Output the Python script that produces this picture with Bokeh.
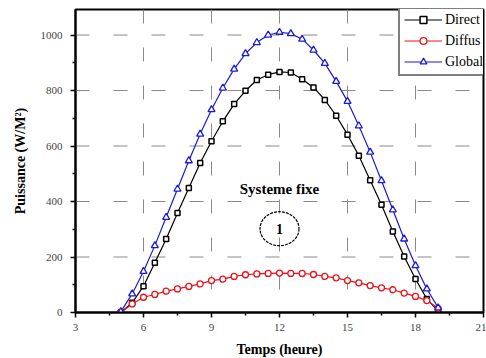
from bokeh.plotting import figure
from bokeh.models import FixedTicker, Legend, LegendItem, Label, Range1d, Span
from bokeh.embed import file_html
from bokeh.resources import INLINE

# Hourly solar power on a fixed system (W/m²), sampled every half hour
hours = [5.0, 5.5, 6.0, 6.5, 7.0, 7.5, 8.0, 8.5, 9.0, 9.5, 10.0, 10.5, 11.0, 11.5,
         12.0, 12.5, 13.0, 13.5, 14.0, 14.5, 15.0, 15.5, 16.0, 16.5, 17.0, 17.5,
         18.0, 18.5, 19.0]
direct = [0, 35, 95, 179, 265, 359, 449, 539, 617, 689, 751, 799, 838, 857,
          867, 865, 841, 811, 766, 709, 641, 565, 477, 388, 292, 202, 121, 49, 5]
diffus = [0, 31, 55, 65, 77, 85, 94, 103, 115, 120, 130, 136, 139, 141,
          142, 141, 141, 137, 130, 125, 115, 107, 97, 89, 82, 70, 58, 43, 15]
global_ = [3, 67, 148, 241, 343, 445, 547, 643, 731, 809, 877, 933, 973, 1000,
           1010, 1005, 985, 946, 898, 833, 761, 673, 578, 475, 370, 265, 169, 85, 17]

x_ticks = [3, 6, 9, 12, 15, 18, 21]
x_minor = [4.5, 7.5, 10.5, 13.5, 16.5, 19.5]
y_ticks = [0, 200, 400, 600, 800, 1000]
y_minor = [100, 300, 500, 700, 900]

SERIF = "Liberation Serif"

p = figure(frame_width=408, frame_height=303,
           min_border_left=75, min_border_right=3, min_border_top=9, min_border_bottom=46,
           x_range=Range1d(3, 21), y_range=Range1d(0, 1092),
           output_backend="svg", toolbar_location=None,
           background_fill_color="white", border_fill_color="white")

p.outline_line_color = "black"
p.outline_line_width = 2
p.xgrid.visible = False
p.ygrid.visible = False

# Axes
for ax in (p.xaxis[0], p.yaxis[0]):
    ax.axis_line_width = 2
    ax.axis_line_color = "black"
    ax.major_tick_line_width = 1.5
    ax.minor_tick_line_width = 1.5
    ax.major_tick_in = 0
    ax.major_tick_out = 5
    ax.minor_tick_in = 0
    ax.minor_tick_out = 3
    ax.major_label_text_font = SERIF
    ax.major_label_text_font_size = "11px"
    ax.major_label_text_color = "#444444"
    ax.axis_label_text_font = SERIF
    ax.axis_label_text_font_style = "bold"
    ax.axis_label_text_font_size = "14px"
    ax.axis_label_text_color = "black"

p.xaxis.ticker = FixedTicker(ticks=x_ticks, minor_ticks=x_minor)
p.yaxis.ticker = FixedTicker(ticks=y_ticks, minor_ticks=y_minor)
p.xaxis.axis_label = "Temps (heure)"
p.yaxis.axis_label = "Puissance (W/M²)"
p.xaxis.major_label_standoff = 6
p.xaxis.axis_label_standoff = 8
p.yaxis.major_label_standoff = 8
p.yaxis.axis_label_standoff = 10

# Sparse short-dash grid at the interior major ticks
for t in x_ticks[1:-1]:
    p.add_layout(Span(location=t, dimension="height", line_color="#8a8a8a",
                      line_width=1, line_dash="14 24", level="underlay"))
for t in y_ticks[1:]:
    p.add_layout(Span(location=t, dimension="width", line_color="#8a8a8a",
                      line_width=1, line_dash="14 24", level="underlay"))

# Curves
r_dir_l = p.line(hours, direct, line_color="black", line_width=1.2)
r_dir_m = p.scatter(hours, direct, marker="square", size=5, line_color="black",
                    fill_color="white", line_width=1.5)
r_dif_l = p.line(hours, diffus, line_color="#e8141a", line_width=1.2)
r_dif_m = p.scatter(hours, diffus, marker="circle", size=6, line_color="#e8141a",
                    fill_color="white", line_width=1.3)
r_glo_l = p.line(hours, global_, line_color="#1a1ad6", line_width=1.2)
r_glo_m = p.scatter(hours, global_, marker="triangle", size=7, line_color="#1a1ad6",
                    fill_color="white", line_width=1.3)

legend = Legend(items=[
    LegendItem(label="Direct", renderers=[r_dir_l, r_dir_m]),
    LegendItem(label="Diffus", renderers=[r_dif_l, r_dif_m]),
    LegendItem(label="Global", renderers=[r_glo_l, r_glo_m]),
], location=(323, 236))
legend.margin = 0
legend.padding = 4
legend.spacing = 4
legend.glyph_width = 38
legend.glyph_height = 17
legend.label_height = 17
legend.label_standoff = 3
legend.label_text_font = SERIF
legend.label_text_font_size = "14px"
legend.label_text_color = "black"
legend.border_line_color = "black"
legend.border_line_width = 2
legend.background_fill_color = "white"
legend.background_fill_alpha = 1
p.add_layout(legend)

# Annotation: system label and numbered circle
p.add_layout(Label(x=12, y=446, text="Systeme fixe", text_font=SERIF,
                   text_font_style="bold", text_font_size="15px",
                   text_align="center", text_baseline="middle", text_color="black"))
p.ellipse(x=[12], y=[302], width=39, height=34, width_units="screen",
          height_units="screen", fill_color=None, line_color="black",
          line_width=1.2, line_dash="3 1")
p.add_layout(Label(x=12, y=302, text="1", text_font=SERIF,
                   text_font_style="bold", text_font_size="14px",
                   text_align="center", text_baseline="middle", text_color="black"))

open("out.html", "w").write(file_html(p, INLINE))
